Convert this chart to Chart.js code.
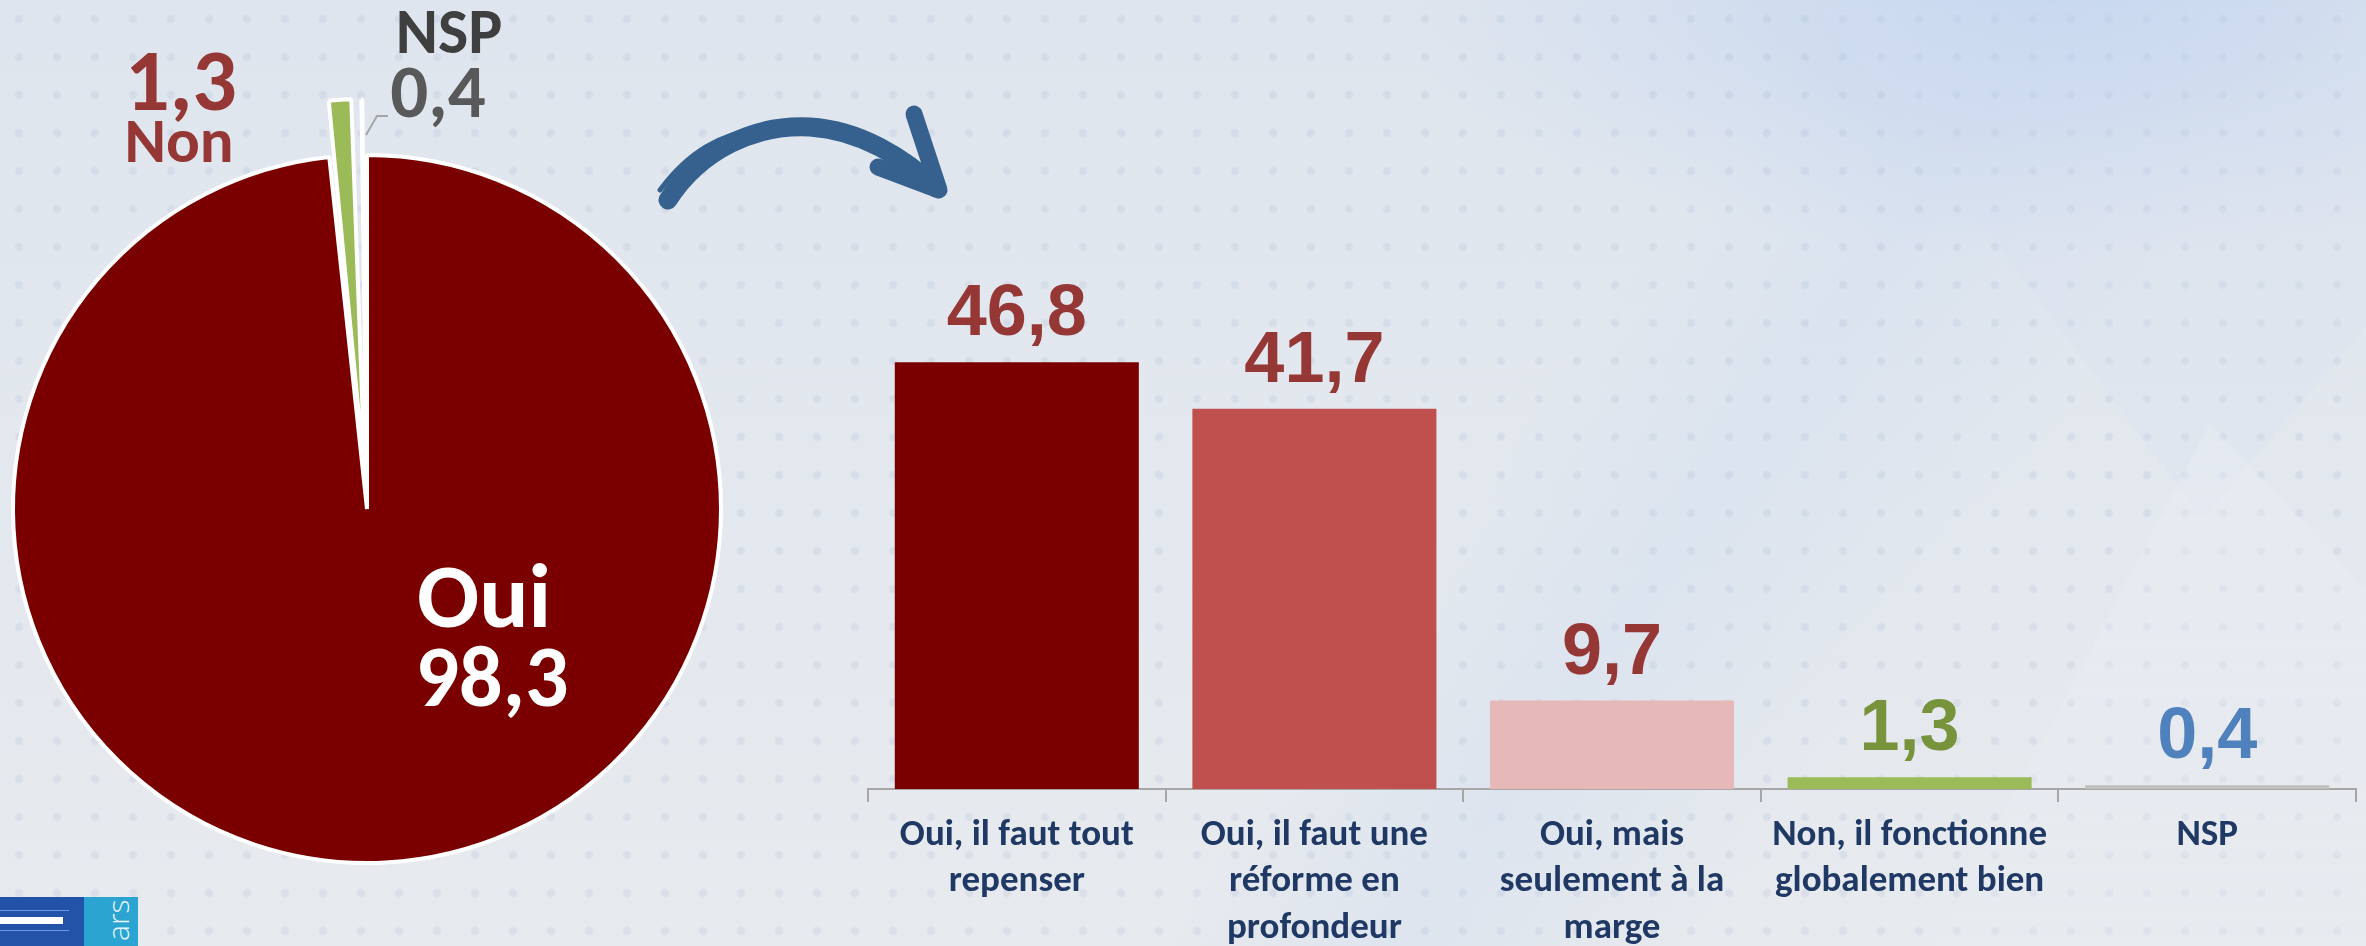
<!DOCTYPE html>
<html lang="fr">
<head>
<meta charset="utf-8">
<title>Faut-il réformer le système ?</title>
<script src="https://cdn.jsdelivr.net/npm/chart.js@4.4.1/dist/chart.umd.min.js"></script>
<style>
  html, body { margin: 0; padding: 0; }
  body {
    width: 2366px; height: 946px; overflow: hidden; position: relative;
    background-color: #e2e7ee;
    background-image:
      radial-gradient(circle at 50% 50%, rgba(140,160,195,0.15) 0 3px, rgba(140,160,195,0) 5px),
      radial-gradient(ellipse 650px 260px at 2050px 0px, rgba(196,214,240,0.9), rgba(196,214,240,0) 100%),
      linear-gradient(125deg, rgba(210,222,240,0) 60%, rgba(208,221,240,0.4) 68%, rgba(210,222,240,0) 78%),
      linear-gradient(180deg, #dfe5ee 0%, #e3e8ef 45%, #e7eaee 100%);
    background-size: 38px 38px, 100% 100%, 100% 100%, 100% 100%;
  }
  .shape { position: absolute; pointer-events: none; filter: blur(6px); }
  #tri1 { left: 1900px; top: 380px; width: 620px; height: 620px;
          background: linear-gradient(180deg, rgba(238,241,246,0.35), rgba(232,236,242,0.25));
          clip-path: polygon(50% 7%, 100% 60%, 100% 100%, 0% 100%, 2% 98%); }
  #tri2 { left: 1500px; top: 0px; width: 900px; height: 520px;
          background: rgba(214,225,241,0.22);
          clip-path: polygon(35% 0%, 100% 0%, 100% 55%, 78% 100%); }
  canvas { position: absolute; top: 0; }
  #pie { left: 0; }
  #bars { left: 800px; }
  #arrow { position: absolute; left: 0; top: 0; }
  .logo { position: absolute; left: 0; top: 897px; width: 138px; height: 49px; overflow: hidden; }
  .logo .blue { position: absolute; left: 0; top: 0; width: 84px; height: 49px; background: #2352a9; }
  .logo .bar { position: absolute; left: 0; top: 20px; width: 63px; height: 7px; background: #ffffff; }
  .logo .line { position: absolute; left: 0; width: 69px; height: 1px; background: #6f9ae0; }
  .logo .cyan { position: absolute; left: 84px; top: 0; width: 54px; height: 49px; background: #2ba4d2; }
  .logo .txt { position: absolute; left: 97px; color: #e8f4fb; font: 300 30px "Open Sans", sans-serif;
               transform: rotate(-90deg); transform-origin: 0 0; white-space: nowrap; }
</style>
</head>
<body>
<div class="shape" id="tri2"></div>
<div class="shape" id="tri1"></div>
<svg id="arrow" width="1000" height="260" viewBox="0 0 1000 260">
  <path d="M 668 200 C 700 150, 755 124, 810 127 C 860 130, 905 158, 936 188"
        fill="none" stroke="#36618f" stroke-width="19" stroke-linecap="round"/>
  <path d="M 660 190 C 690 150, 720 135, 760 128" fill="none" stroke="#36618f" stroke-width="5" stroke-linecap="round"/>
  <path d="M 914 114 L 939 190 L 878 167" fill="none" stroke="#36618f" stroke-width="17"
        stroke-linecap="round" stroke-linejoin="round"/>
</svg>
<canvas id="pie" width="800" height="946"></canvas>
<canvas id="bars" width="1566" height="946"></canvas>
<div class="logo">
  <div class="blue"></div>
  <div class="line" style="top:13px"></div>
  <div class="bar"></div>
  <div class="line" style="top:33px"></div>
  <div class="cyan"></div>
  <div class="txt" style="top:44px">ars</div>
</div>
<script>
// Réponses globales (camembert)
const pieLabels = ['Oui', 'Non', 'NSP'];
const pieValues = [98.3, 1.3, 0.4];
const pieColors = ['#7a0000', '#9bbb59', '#7f7f7f'];

// Détail des réponses (histogramme)
const barCategories = [
  ['Oui, il faut tout', 'repenser'],
  ['Oui, il faut une', 'réforme en', 'profondeur'],
  ['Oui, mais', 'seulement à la', 'marge'],
  ['Non, il fonctionne', 'globalement bien'],
  ['NSP']
];
const barValues = [46.8, 41.7, 9.7, 1.3, 0.4];
const barColors = ['#7a0000', '#c0504d', '#e6b9b8', '#9bbb59', '#bfbfbf'];
const barValueColors = ['#953735', '#953735', '#953735', '#77933c', '#4f81bd'];

const fmt = v => v.toFixed(1).replace('.', ',');
const CAL = 'Carlito, Calibri, "Open Sans", sans-serif';

// Étiquettes du camembert : nom + valeur, placées autour du centre
const pieLabelPlugin = {
  id: 'pieLabels',
  afterDatasetsDraw(chart) {
    const ctx = chart.ctx;
    const arc = chart.getDatasetMeta(0).data[0];
    const cx = arc.x, cy = arc.y;
    ctx.save();
    ctx.textAlign = 'center';
    ctx.textBaseline = 'alphabetic';
    // Oui
    ctx.fillStyle = '#ffffff';
    ctx.font = 'bold 92px ' + CAL;
    ctx.fillText(pieLabels[0], cx + 117, cy + 118);
    ctx.font = 'bold 86px ' + CAL;
    ctx.fillText(fmt(pieValues[0]), cx + 125, cy + 197);
    // Non
    ctx.fillStyle = '#953735';
    ctx.font = 'bold 88px ' + CAL;
    ctx.fillText(fmt(pieValues[1]), cx - 186, cy - 399);
    ctx.font = 'bold 63px ' + CAL;
    ctx.fillText(pieLabels[1], cx - 188, cy - 347);
    // NSP
    ctx.fillStyle = '#3f3f3f';
    ctx.font = 'bold 64px ' + CAL;
    ctx.fillText(pieLabels[2], cx + 82, cy - 456);
    ctx.fillStyle = '#595959';
    ctx.font = 'bold 75px ' + CAL;
    ctx.fillText(fmt(pieValues[2]), cx + 71, cy - 392);
    // trait de rappel vers la part NSP
    ctx.strokeStyle = '#a6a6a6';
    ctx.lineWidth = 2;
    ctx.beginPath();
    ctx.moveTo(cx + 21, cy - 393);
    ctx.lineTo(cx + 10, cy - 393);
    ctx.lineTo(cx - 1, cy - 374);
    ctx.stroke();
    ctx.restore();
  }
};

new Chart(document.getElementById('pie'), {
  type: 'pie',
  data: {
    labels: pieLabels,
    datasets: [{
      data: pieValues,
      backgroundColor: pieColors,
      borderColor: '#ffffff',
      borderWidth: 4,
      offset: [0, 117, 113]
    }]
  },
  options: {
    responsive: false,
    animation: false,
    radius: 354,
    layout: { padding: { left: 0, right: 66, top: 72, bottom: 0 } },
    plugins: { legend: { display: false }, tooltip: { enabled: false } }
  },
  plugins: [pieLabelPlugin]
});

// Valeurs au-dessus des barres
const barValuePlugin = {
  id: 'barValues',
  afterDatasetsDraw(chart) {
    const ctx = chart.ctx;
    const meta = chart.getDatasetMeta(0);
    ctx.save();
    ctx.textAlign = 'center';
    ctx.textBaseline = 'alphabetic';
    ctx.font = 'bold 72px "Liberation Sans", Arial, sans-serif';
    meta.data.forEach((bar, i) => {
      ctx.fillStyle = barValueColors[i];
      ctx.fillText(fmt(barValues[i]), bar.x, bar.y - 27);
    });
    ctx.restore();
  }
};

new Chart(document.getElementById('bars'), {
  type: 'bar',
  data: {
    labels: barCategories,
    datasets: [{
      data: barValues,
      backgroundColor: barColors,
      borderWidth: 0,
      barPercentage: 0.82,
      categoryPercentage: 1.0
    }]
  },
  options: {
    responsive: false,
    animation: false,
    layout: { padding: { left: 68, right: 10, top: 333, bottom: 0 } },
    scales: {
      x: {
        afterFit(scale) { scale.height = 157; },
        grid: { offset: true, drawOnChartArea: false, drawTicks: true, tickLength: 13, color: '#a6a6a6', lineWidth: 2 },
        border: { display: true, color: '#a6a6a6', width: 2 },
        ticks: {
          color: '#1f3864',
          font: { family: CAL, size: 37, weight: 'bold', lineHeight: 1.26 },
          padding: 10,
          maxRotation: 0,
          autoSkip: false
        }
      },
      y: { display: false, min: 0, max: 50 }
    },
    plugins: { legend: { display: false }, tooltip: { enabled: false } }
  },
  plugins: [barValuePlugin]
});
</script>
</body>
</html>
